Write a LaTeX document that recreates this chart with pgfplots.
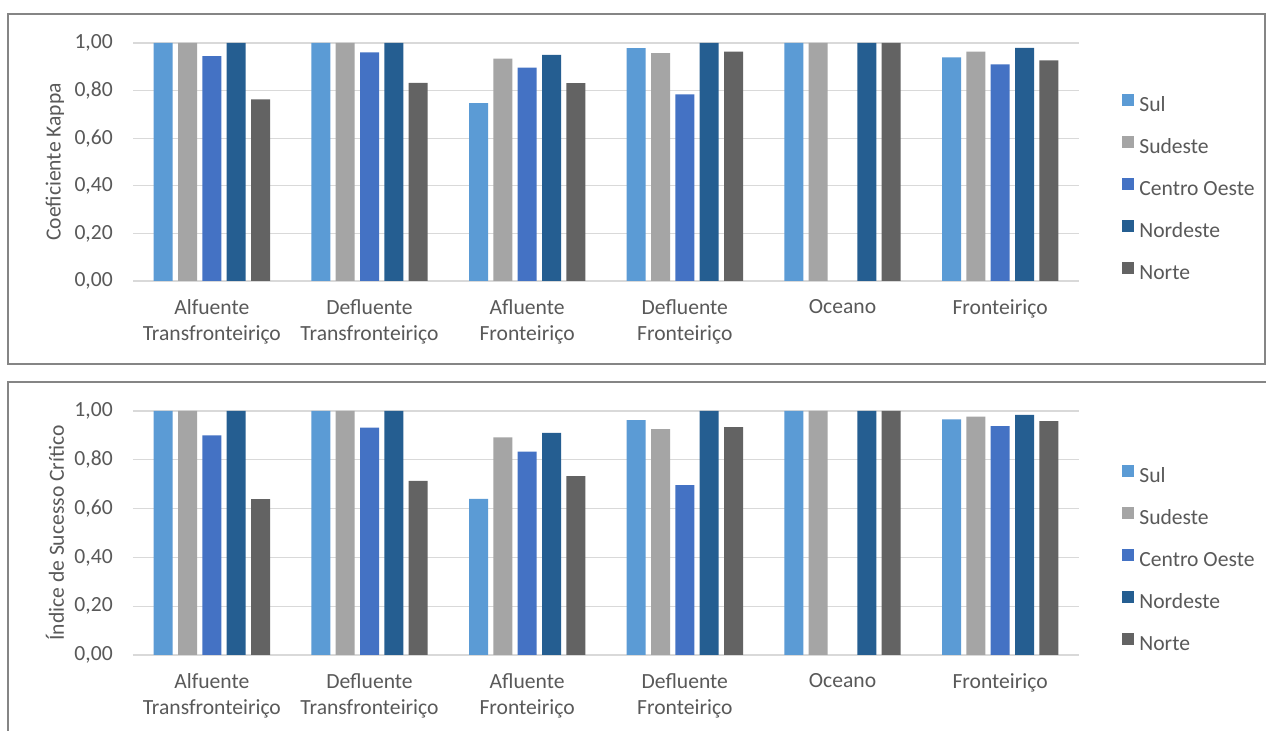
\documentclass[border=0pt]{standalone}
\usepackage{fontspec}
\setmainfont{Carlito}
\usepackage{pgfplots}
\usepackage{pgfplotstable}
\pgfplotsset{compat=1.18}
\definecolor{cSul}{HTML}{5B9BD5}
\definecolor{cSud}{HTML}{A5A5A5}
\definecolor{cCO}{HTML}{4472C4}
\definecolor{cNE}{HTML}{255E91}
\definecolor{cN}{HTML}{636363}
\definecolor{txt}{HTML}{595959}
\definecolor{grd}{HTML}{D9D9D9}
\definecolor{frm}{HTML}{858585}

\pgfplotstableread{
x sul sud co ne no
0 1.00 1.00 0.945 1.00 0.763
1 1.00 1.00 0.961 1.00 0.832
2 0.747 0.934 0.896 0.950 0.831
3 0.978 0.957 0.784 1.00 0.964
4 1.00 1.00 nan 1.00 1.00
5 0.940 0.964 0.910 0.980 0.927
}\tabK

\pgfplotstableread{
x sul sud co ne no
0 1.00 1.00 0.900 1.00 0.639
1 1.00 1.00 0.932 1.00 0.714
2 0.640 0.892 0.834 0.910 0.733
3 0.963 0.926 0.696 1.00 0.934
4 1.00 1.00 nan 1.00 1.00
5 0.966 0.977 0.938 0.984 0.959
}\tabI

\newcommand\fnt{\fontsize{16.2}{19.5}\selectfont}

\pgfplotsset{
  mystyle/.style={
    scale only axis, width=709.5pt, anchor=south west,
    ybar=4pt, bar width=14.25pt,
    xmin=-0.5, xmax=5.5, ymin=0, ymax=1,
    xtick={0,1,2,3,4,5},
    xticklabels={{Alfuente\\Transfronteiriço},{Defluente\\Transfronteiriço},{Afluente\\Fronteiriço},{Defluente\\Fronteiriço},{Oceano},{Fronteiriço}},
    ytick={0,0.2,0.4,0.6,0.8,1},
    ymajorgrids, grid style={grd, line width=1pt},
    axis line style={draw=none},
    major tick length=0pt,
    tick label style={font=\fnt, text=txt},
    /pgf/number format/.cd, fixed, fixed zerofill, precision=2, use comma, assume math mode=true,
    /pgfplots/.cd,
    xticklabel style={align=center, anchor=north, inner sep=0pt, yshift=-14pt},
    yticklabel style={anchor=east, inner sep=0pt, xshift=-15pt},
    ylabel style={at={(axis description cs:-0.0825,0.5)}, anchor=center, font=\fnt, text=txt},
    legend style={at={(1.0455,0.389)}, anchor=west, draw=none, fill=none, inner sep=0pt, outer sep=0pt,
      font=\fnt, text=txt, row sep=15.5pt,
      nodes={inner sep=0pt, text height=11pt, text depth=3pt},
      /tikz/every odd column/.append style={column sep=4pt}},
    legend cell align=left,
    legend image code/.code={\fill[##1] (0pt,0pt) rectangle (9pt,9pt);},
  }
}

\begin{document}
\begin{tikzpicture}
\path[use as bounding box] (0pt,0pt) rectangle (949.5pt,548.25pt);
\fill[white] (0pt,0pt) rectangle (949.5pt,548.25pt);
\draw[frm, line width=1.5pt] (6pt,275.25pt) rectangle (949.1pt,537.75pt);
\draw[frm, line width=1pt] (950pt,261.75pt) -- (6pt,261.75pt) -- (6pt,-1pt);

\begin{axis}[mystyle, at={(99.75pt,337.5pt)}, height=178.5pt, ylabel={Coeficiente Kappa}]
\addplot[fill=cSul, draw=none] table[x=x,y=sul]{\tabK};
\addplot[fill=cSud, draw=none] table[x=x,y=sud]{\tabK};
\addplot[fill=cCO, draw=none] table[x=x,y=co]{\tabK};
\addplot[fill=cNE, draw=none] table[x=x,y=ne]{\tabK};
\addplot[fill=cN, draw=none] table[x=x,y=no]{\tabK};
\legend{Sul,Sudeste,Centro Oeste,Nordeste,Norte}
\end{axis}

\begin{axis}[mystyle, at={(99.75pt,57pt)}, height=183pt, ylabel={Índice de Sucesso Crítico}]
\addplot[fill=cSul, draw=none] table[x=x,y=sul]{\tabI};
\addplot[fill=cSud, draw=none] table[x=x,y=sud]{\tabI};
\addplot[fill=cCO, draw=none] table[x=x,y=co]{\tabI};
\addplot[fill=cNE, draw=none] table[x=x,y=ne]{\tabI};
\addplot[fill=cN, draw=none] table[x=x,y=no]{\tabI};
\legend{Sul,Sudeste,Centro Oeste,Nordeste,Norte}
\end{axis}
\end{tikzpicture}
\end{document}
